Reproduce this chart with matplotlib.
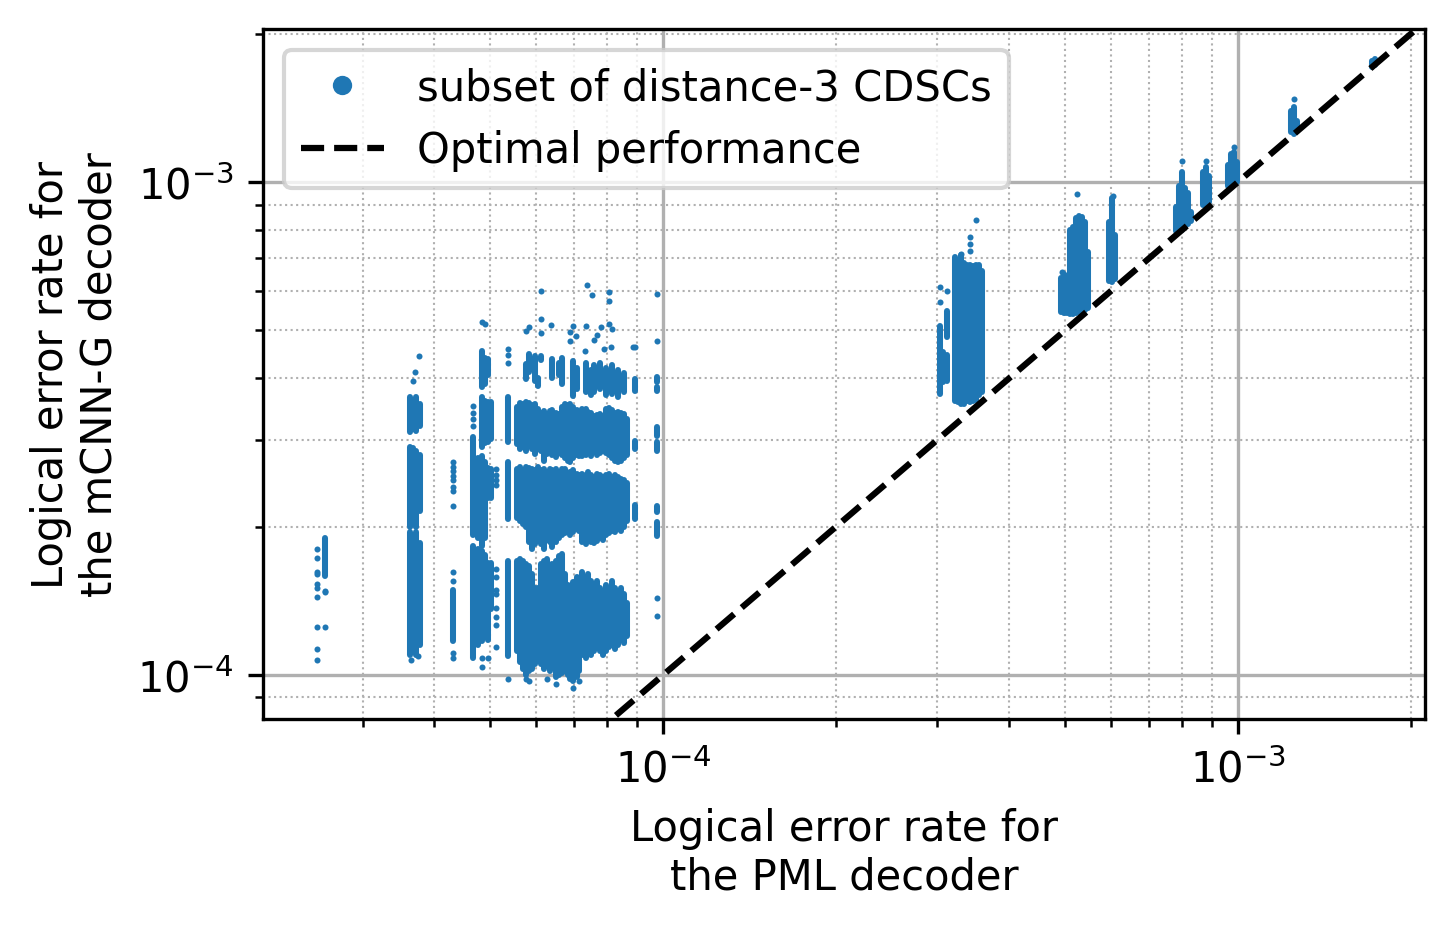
import numpy as np
import matplotlib.pyplot as plt

# values: x in units of 1e-5, y in units of 1e-4

# isolated points
dot_x = [2.50, 2.50, 2.50, 2.50, 2.50, 2.50, 2.50, 2.50, 2.50, 2.50,
         2.58, 2.58, 2.58,
         3.76, 3.70, 3.67, 3.65, 3.74,
         4.31, 4.31, 4.31, 4.31, 4.31, 4.31, 4.31, 4.31, 4.31, 4.31, 4.31, 4.31,
         4.67, 4.67, 4.67, 4.67,
         4.84, 4.90, 4.84, 4.84, 4.96,
         5.12, 5.12, 5.12, 5.12, 5.12, 5.12, 5.12, 5.12, 5.12, 5.12, 5.12, 5.12,
         5.37, 5.37, 5.37, 5.37,
         6.12, 6.12, 6.12, 6.38, 5.77, 5.84, 6.98, 6.90, 7.05, 6.90, 7.35, 7.38,
         7.52, 8.06, 8.06, 7.80, 7.68, 7.59, 8.06, 8.16, 8.11, 7.90, 7.30, 8.88,
         6.98, 6.50, 5.84, 6.27, 7.15, 5.77,
         8.94, 9.76, 9.76, 9.76, 9.76,
         30.3, 31.2, 30.3, 35.0, 34.2, 34.2, 34.2, 33.0,
         52.4, 49.5, 60.6,
         79.9, 88.0, 98.4, 125.2]
dot_y = [1.80, 1.73, 1.62, 1.60, 1.53, 1.50, 1.44, 1.25, 1.13, 1.07,
         1.48, 1.47, 1.25,
         4.43, 4.12, 3.95, 1.07, 1.09,
         2.70, 2.64, 2.59, 2.53, 2.48, 2.41, 2.36, 2.20, 1.62, 1.55, 1.11, 1.08,
         3.52, 3.40, 3.30, 3.20,
         5.20, 5.14, 1.08, 1.04, 1.08,
         2.62, 2.55, 2.48, 2.43, 1.64, 1.58, 1.49, 1.46, 1.37, 1.31, 1.26, 1.14,
         4.58, 4.45, 4.29, 0.98,
         6.00, 5.28, 4.93, 5.13, 4.99, 5.07, 5.10, 4.97, 4.86, 4.76, 5.10, 6.18,
         5.91, 5.98, 5.73, 5.07, 4.89, 4.79, 5.14, 5.03, 4.62, 4.58, 4.55, 4.62,
         0.94, 0.96, 0.97, 0.98, 0.97, 0.98,
         4.63, 5.93, 4.76, 1.43, 1.32,
         6.12, 6.00, 5.70, 8.37, 7.73, 7.48, 7.24, 7.14,
         9.46, 6.57, 9.37,
         11.03, 11.03, 11.78, 14.74]

# dense block between 5.5e-5 and 8.7e-5: one column per entry, three bands
blk_x = [5.56, 5.63, 5.70, 5.77, 5.84, 5.91, 5.98, 6.05,
         6.12, 6.20, 6.27, 6.35, 6.42, 6.50, 6.58, 6.66,
         6.74, 6.82, 6.90, 6.98, 7.07, 7.15,
         7.24, 7.33, 7.41, 7.50, 7.59, 7.68, 7.78, 7.87,
         7.97, 8.06, 8.16, 8.26, 8.36, 8.46, 8.56, 8.66]
blk_a_hi = [3.50, 3.56, 3.55, 3.58, 3.56, 3.53, 3.55, 3.46,
            3.40, 3.43, 3.38, 3.43, 3.45, 3.40, 3.38, 3.50,
            3.55, 3.53, 3.55, 3.50, 3.45, 3.42,
            3.46, 3.46, 3.42, 3.40, 3.35, 3.36, 3.38, 3.35,
            3.46, 3.48, 3.44, 3.40, 3.42, 3.40, 3.38, 3.30]
blk_a_lo = [2.94, 2.87, 2.90, 2.85, 2.93, 2.87, 2.81, 2.87,
            2.85, 2.72, 2.81, 2.83, 2.80, 2.77, 2.82, 2.80,
            2.75, 2.72, 2.70, 2.75, 2.80, 2.78,
            2.78, 2.80, 2.82, 2.78, 2.85, 2.80, 2.82, 2.85,
            2.82, 2.80, 2.75, 2.72, 2.70, 2.72, 2.75, 2.80]
blk_b_hi = [2.62, 2.64, 2.60, 2.64, 2.63, 2.62, 2.60, 2.64,
            2.60, 2.62, 2.58, 2.62, 2.60, 2.62, 2.58, 2.62,
            2.62, 2.55, 2.58, 2.60, 2.56, 2.55,
            2.56, 2.55, 2.58, 2.55, 2.52, 2.56, 2.55, 2.52,
            2.55, 2.56, 2.52, 2.55, 2.52, 2.50, 2.48, 2.45]
blk_b_lo = [2.08, 2.05, 2.02, 2.00, 1.86, 1.80, 1.84, 1.88,
            1.84, 1.80, 1.88, 1.86, 1.82, 1.86, 1.90, 1.92,
            1.94, 1.96, 1.92, 1.95, 1.98, 1.96,
            1.86, 1.84, 1.88, 1.86, 1.85, 1.87, 1.90, 1.88,
            1.92, 1.94, 1.96, 1.95, 1.98, 1.96, 2.00, 2.05]
blk_c_hi = [1.70, 1.72, 1.70, 1.68, 1.66, 1.60, 1.50, 1.50,
            1.68, 1.70, 1.72, 1.66, 1.68, 1.70, 1.74, 1.76,
            1.60, 1.52, 1.50, 1.54, 1.58, 1.56,
            1.62, 1.58, 1.60, 1.55, 1.52, 1.55, 1.50, 1.48,
            1.52, 1.50, 1.55, 1.50, 1.48, 1.50, 1.46, 1.40]
blk_c_lo = [1.12, 1.06, 1.03, 1.00, 1.02, 1.03, 1.05, 1.10,
            1.05, 1.03, 1.06, 1.02, 1.04, 0.99, 1.00, 1.01,
            1.02, 1.00, 0.98, 0.97, 0.99, 1.02,
            1.10, 1.08, 1.12, 1.10, 1.12, 1.14, 1.12, 1.10,
            1.12, 1.14, 1.15, 1.13, 1.15, 1.18, 1.16, 1.20]

# sparser top band of that block
top_x = [5.77, 5.84, 5.98, 6.05, 6.12, 6.42, 6.58, 6.66, 6.98,
         7.07, 7.33, 7.50, 7.59, 7.78, 7.97, 8.16, 8.36, 8.56]
top_hi = [4.27, 4.48, 4.43, 4.00, 4.43, 4.38, 4.30, 4.40, 4.33,
          4.20, 4.30, 4.15, 4.25, 4.30, 4.20, 4.25, 4.15, 4.10]
top_lo = [3.99, 4.11, 3.95, 3.85, 4.35, 4.00, 4.05, 3.90, 3.68,
          3.80, 3.75, 3.70, 3.75, 3.80, 3.70, 3.72, 3.67, 3.75]

# other vertical runs of overlapping points
run_x = [2.58,
         3.63, 3.67, 3.72, 3.77, 3.63, 3.67, 3.72, 3.77, 3.63, 3.67, 3.72, 3.77,
         4.31, 4.67, 4.67, 4.77, 4.77,
         4.84, 4.84, 4.84, 4.84, 4.90, 4.90, 4.90, 4.90,
         4.96, 4.96, 4.96, 4.96, 5.02, 5.02, 5.02,
         5.37, 5.37, 5.37,
         8.94, 8.94, 8.94, 9.76, 9.76, 9.76, 9.76, 9.76, 9.76,
         30.3, 30.7, 31.2, 31.2, 32.2, 32.6, 33.0, 33.4, 33.8, 34.2, 34.6, 35.0, 35.4, 35.9,
         49.2, 49.8, 50.4, 51.0, 51.6, 52.3, 52.9, 53.5, 54.2, 54.8,
         59.7, 60.4, 61.1,
         78.0, 79.0, 79.9, 80.9, 81.8, 82.8,
         86.9, 88.0, 89.1,
         96.1, 97.2, 98.4, 99.6,
         123.7, 125.2, 126.7,
         171.0, 173.1]
run_lo = [1.59,
          3.11, 3.15, 3.12, 3.20, 2.00, 2.05, 2.00, 2.15, 1.10, 1.12, 1.10, 1.15,
          1.17, 1.92, 1.08, 1.90, 1.15,
          3.84, 2.90, 1.83, 1.17, 3.90, 2.95, 1.90, 1.20,
          4.05, 2.97, 2.28, 1.18, 3.01, 2.28, 1.36,
          2.97, 2.07, 1.09,
          3.77, 2.87, 2.07, 3.92, 3.77, 3.05, 2.85, 2.14, 1.91,
          3.72, 3.92, 4.85, 3.95, 3.59, 3.57, 3.55, 3.55, 3.60, 3.58, 3.60, 3.62, 3.70, 3.75,
          5.45, 5.42, 5.42, 5.40, 5.40, 5.42, 5.45, 5.45, 5.50, 5.55,
          6.30, 6.27, 6.35,
          7.95, 7.96, 7.98, 8.10, 8.20, 8.35,
          9.00, 8.94, 9.10,
          9.80, 9.75, 9.90, 10.00,
          12.60, 12.50, 12.70,
          17.10, 17.30]
run_hi = [1.90,
          3.66, 3.60, 3.66, 3.55, 2.90, 2.88, 2.85, 2.80, 1.95, 1.92, 1.95, 1.85,
          1.49, 3.04, 1.83, 2.75, 1.80,
          4.54, 3.66, 2.78, 1.78, 4.40, 3.60, 2.70, 1.75,
          4.38, 3.58, 2.63, 1.69, 3.58, 2.62, 1.69,
          3.67, 2.70, 1.70,
          3.99, 2.98, 2.21, 4.03, 3.84, 3.18, 2.97, 2.20, 2.04,
          5.10, 4.52, 5.48, 4.45, 7.04, 6.90, 7.10, 6.85, 6.80, 6.80, 6.75, 6.80, 6.80, 6.60,
          6.40, 6.50, 6.45, 8.00, 8.10, 8.45, 8.53, 8.50, 8.30, 7.20,
          8.30, 9.30, 7.80,
          8.90, 9.80, 10.50, 9.70, 9.50, 8.70,
          10.50, 10.73, 10.30,
          10.80, 11.40, 11.50, 11.00,
          13.90, 14.20, 13.30,
          17.60, 17.80]

# y = x reference line
opt_x = [1e-5, 1e-2]

xs, ys = 1e-5, 1e-4
col = '#1f77b4'
dot = 1.45

fig, ax = plt.subplots(figsize=(4.85, 3.1033), dpi=300)
fig.subplots_adjust(left=263/1455, right=1425/1455, bottom=1-720/931, top=1-30/931)

ax.plot(np.array(dot_x)*xs, np.array(dot_y)*ys, 'o', ms=dot, mew=0, color=col,
        label='subset of distance-3 CDSCs')
bx = np.array(blk_x)*xs
for lo, hi in [(blk_a_lo, blk_a_hi), (blk_b_lo, blk_b_hi), (blk_c_lo, blk_c_hi)]:
  ax.vlines(bx, np.array(lo)*ys, np.array(hi)*ys, colors=col, linewidth=dot, capstyle='round')
ax.vlines(np.array(top_x)*xs, np.array(top_lo)*ys, np.array(top_hi)*ys, colors=col,
          linewidth=dot, capstyle='round')
ax.vlines(np.array(run_x)*xs, np.array(run_lo)*ys, np.array(run_hi)*ys, colors=col,
          linewidth=dot, capstyle='round')
ax.plot(opt_x, opt_x, 'k--', lw=1.5, label='Optimal performance')

ax.set_xscale('log')
ax.set_yscale('log')
ax.set_xlim(2.014e-5, 2.114e-3)
ax.set_ylim(8.14e-5, 2.043e-3)
ax.grid(True, which='major', color='#b0b0b0', linewidth=0.8)
ax.grid(True, which='minor', color='#b0b0b0', linestyle=':', linewidth=0.5)
ax.set_xlabel('Logical error rate for\nthe PML decoder')
ax.set_ylabel('Logical error rate for\nthe mCNN-G decoder')
ax.legend(loc='upper left', markerscale=3.2)

plt.savefig('out.png', dpi=300)
